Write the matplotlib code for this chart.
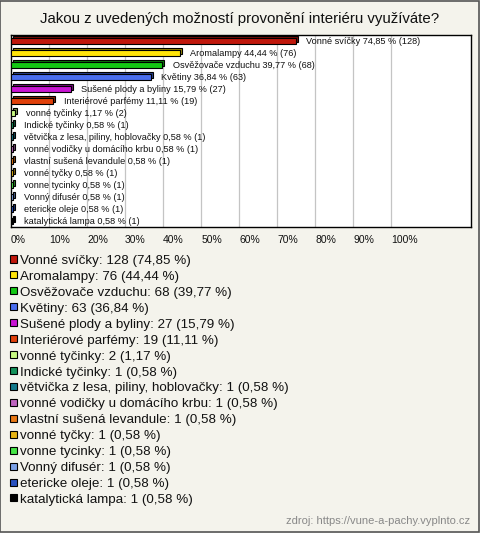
import matplotlib
matplotlib.use("Agg")
import matplotlib.pyplot as plt
import matplotlib.transforms as mtransforms
from matplotlib.patches import Rectangle

plt.rcParams['font.family'] = ['Liberation Sans', 'DejaVu Sans']

title = "Jakou z uvedených možností provonění interiéru využíváte?"
source = "zdroj: https://vune-a-pachy.vyplnto.cz"

categories = [
    "Vonné svíčky", "Aromalampy", "Osvěžovače vzduchu", "Květiny",
    "Sušené plody a byliny", "Interiérové parfémy", "vonné tyčinky",
    "Indické tyčinky", "větvička z lesa, piliny, hoblovačky",
    "vonné vodičky u domácího krbu", "vlastní sušená levandule",
    "vonné tyčky", "vonne tycinky", "Vonný difusér", "etericke oleje",
    "katalytická lampa",
]
counts = [128, 76, 68, 63, 27, 19, 2, 1, 1, 1, 1, 1, 1, 1, 1, 1]
percents = [74.85, 44.44, 39.77, 36.84, 15.79, 11.11, 1.17,
            0.58, 0.58, 0.58, 0.58, 0.58, 0.58, 0.58, 0.58, 0.58]
colors = [
    "#c0180c", "#ffe40a", "#14c814", "#4a6eee", "#c814d2", "#e0400a",
    "#c8fa82", "#14925a", "#147a8c", "#be64be", "#e87814", "#e6b414",
    "#46e646", "#7aa0e6", "#2850be", "#000000",
]
ticks = [0, 10, 20, 30, 40, 50, 60, 70, 80, 90, 100]

W, H = 480, 533
bg = "#f4f3ec"


def fx(px):
    return px / W


def fy(py):
    return 1 - py / H


def fmt(v):
    return f"{v:.2f}".replace(".", ",")


def darker(c, f=0.6):
    r, g, b = matplotlib.colors.to_rgb(c)
    return (r * f, g * f, b * f)


fig = plt.figure(figsize=(W / 100, H / 100), dpi=100, facecolor=bg)

# outer frame
fig.patches.append(Rectangle((0.001, 0.001), 0.997, 0.997, transform=fig.transFigure,
                             fill=False, edgecolor="#555555", linewidth=1.2))

fig.text(0.5, fy(19), title, ha="center", va="center", fontsize=10.8, color="#111111")

ax = fig.add_axes([fx(11), fy(227), fx(460), (227 - 35) / H])
ax.set_facecolor("white")
n = len(categories)
ax.set_ylim(n - 0.5, -0.5)
ax.set_xlim(0, 121)

for t in ticks[1:]:
    ax.axvline(t, color="#c4c4c4", linewidth=0.9, zorder=0)

back = mtransforms.offset_copy(ax.transData, fig=fig, x=2, y=2, units="dots")
ys = list(range(n))
ax.barh(ys, percents, height=0.44, color=[darker(c) for c in colors],
        edgecolor="black", linewidth=0.8, transform=back, zorder=2)
ax.barh(ys, percents, height=0.44, color=colors, edgecolor="black",
        linewidth=0.8, zorder=3)

for i in range(n):
    ax.annotate(f"{categories[i]} {fmt(percents[i])} % ({counts[i]})",
                (percents[i], i), xytext=(7.5, 0), textcoords="offset points",
                va="center", ha="left", fontsize=6.6, color="#111111", zorder=4)

ax.set_yticks([])
ax.set_xticks(ticks)
ax.set_xticklabels([f"{t}%" for t in ticks], fontsize=7.5, ha="left")
shift = mtransforms.ScaledTranslation(-4 / 100, 0, fig.dpi_scale_trans)
for lab in ax.get_xticklabels():
    lab.set_transform(lab.get_transform() + shift)
ax.tick_params(axis="x", length=0, pad=6, colors="#111111")
for s in ax.spines.values():
    s.set_linewidth(1.0)
    s.set_color("black")

# legend
for i in range(n):
    y = 261 + i * 15.93
    fig.patches.append(Rectangle((fx(9.5), fy(y + 1.5)), fx(7), 7 / H,
                                 transform=fig.transFigure, facecolor=colors[i],
                                 edgecolor="black", linewidth=0.8))
    fig.text(fx(20), fy(y), f"{categories[i]}: {counts[i]} ({fmt(percents[i])} %)",
             ha="left", va="center", fontsize=9.6, color="#111111")

fig.text(fx(470), fy(521), source, ha="right", va="center", fontsize=8, color="#888888")

fig.savefig("out.png", dpi=100, facecolor=bg)
